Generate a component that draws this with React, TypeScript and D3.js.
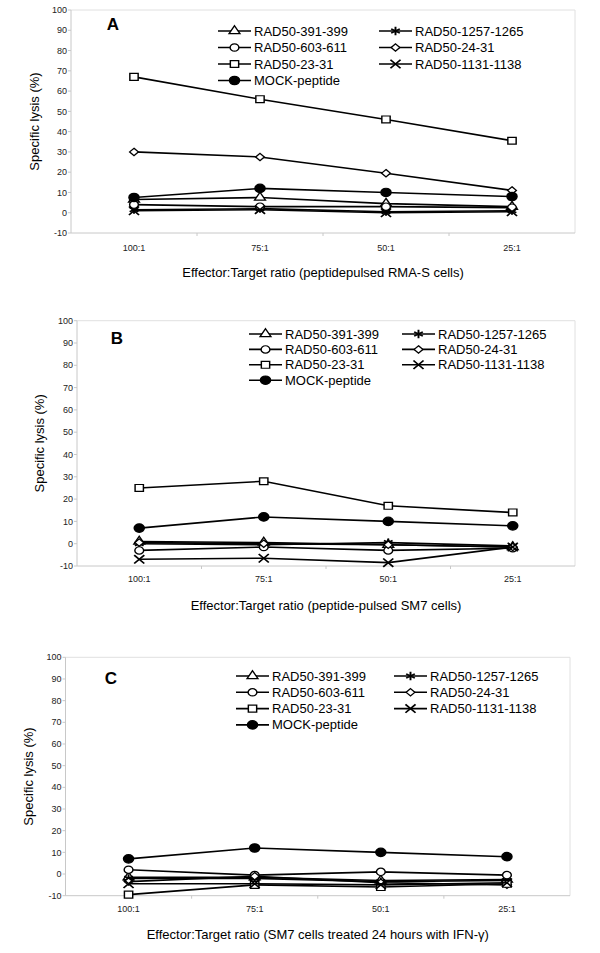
import * as d3 from 'd3';

// Effector:Target ratios on the x axis
const categories = ['100:1', '75:1', '50:1', '25:1'];
const yTicks = [-10, 0, 10, 20, 30, 40, 50, 60, 70, 80, 90, 100];

const seriesNames = [
    'RAD50-391-399',
    'RAD50-1257-1265',
    'RAD50-603-611',
    'RAD50-24-31',
    'RAD50-23-31',
    'RAD50-1131-1138',
    'MOCK-peptide',
];

// specific lysis (%), one row per series (same order as seriesNames)
const lysisRmaS = [
    [6.5, 7.5, 4.5, 3],
    [1.5, 2, 0.5, 1],
    [4, 3, 3, 2.5],
    [30, 27.5, 19.5, 11],
    [67, 56, 46, 35.5],
    [1, 1.5, 0, 0.5],
    [7.5, 12, 10, 8],
];

const lysisSm7 = [
    [1, 0.5, -0.5, -1.5],
    [0, -0.5, 0.5, -1],
    [-3, -1.5, -3, -2],
    [0.5, 0, -0.5, -1.5],
    [25, 28, 17, 14],
    [-7, -6.5, -8.5, -1.5],
    [7, 12, 10, 8],
];

const lysisSm7Ifn = [
    [-1.5, -1.5, -3, -2.5],
    [-2, -2, -3.5, -3],
    [2, -0.5, 1, -0.5],
    [-3.5, -1, -4, -5],
    [-9.5, -5, -6, -4.5],
    [-4.5, -4.5, -5, -4],
    [7, 12, 10, 8],
];

const markers = [
    { type: d3.symbolTriangle, size: 36, fill: '#fff', sw: 1.2 },
    { type: d3.symbolAsterisk, size: 48, fill: 'none', sw: 1.6 },
    { type: d3.symbolCircle, size: 42, fill: '#fff', sw: 1.2 },
    { type: d3.symbolDiamond2, size: 34, fill: '#fff', sw: 1.2 },
    { type: d3.symbolSquare, size: 48, fill: '#fff', sw: 1.2 },
    { type: d3.symbolTimes, size: 48, fill: 'none', sw: 1.5 },
    { type: d3.symbolCircle, size: 56, fill: '#000', sw: 1.2 },
];

const panels = [
    {
        letter: 'A', title: 'Effector:Target ratio (peptidepulsed RMA-S cells)', data: lysisRmaS,
        left: 71, right: 575, top: 10, bottom: 233, letterX: 113, letterY: 30,
        legendX: [218, 379], legendY: 31, legendStep: 16.5, tickY: 248, titleY: 272, yTitleX: 34,
    },
    {
        letter: 'B', title: 'Effector:Target ratio (peptide-pulsed SM7 cells)', data: lysisSm7,
        left: 77, right: 575, top: 320.7, bottom: 566, letterX: 117, letterY: 344,
        legendX: [249, 402], legendY: 334, legendStep: 15.4, tickY: 579, titleY: 605, yTitleX: 39.5,
    },
    {
        letter: 'C', title: 'Effector:Target ratio (SM7 cells treated 24 hours with IFN-\u03b3)', data: lysisSm7Ifn,
        left: 65.5, right: 570, top: 657.3, bottom: 895.7, letterX: 111, letterY: 684,
        legendX: [236, 394], legendY: 676, legendStep: 16.3, tickY: 909, titleY: 934, yTitleX: 28,
    },
];

const font = 'Liberation Sans, Arial, sans-serif';
const axisGray = '#c8c8c8';

function Marker({ i, x, y }: { i: number; x: number; y: number }) {
    const m = markers[i];
    const path = d3.symbol(m.type, m.size)()!;
    return (
        <path
            d={path}
            transform={`translate(${x},${y}) scale(1.2,1)`}
            fill={m.fill}
            stroke="#000"
            strokeWidth={m.sw}
        />
    );
}

function Panel({ p }: { p: typeof panels[number] }) {
    const x = d3.scaleBand().domain(categories).range([p.left, p.right]);
    const y = d3.scaleLinear().domain([-10, 100]).range([p.bottom, p.top]);
    const cx = (c: string) => x(c)! + x.bandwidth() / 2;
    const line = d3.line<number>()
        .x((_, j) => cx(categories[j]))
        .y(d => y(d));

    return (
        <g fontFamily={font}>
            {/* plot frame */}
            <line x1={p.left} x2={p.right} y1={p.top} y2={p.top} stroke="#e0e0e0" />
            <line x1={p.right} x2={p.right} y1={p.top} y2={p.bottom} stroke="#e0e0e0" />
            <line x1={p.left} x2={p.left} y1={p.top} y2={p.bottom} stroke={axisGray} />
            <line x1={p.left} x2={p.right} y1={p.bottom} y2={p.bottom} stroke={axisGray} />

            {yTicks.map(t => (
                <g key={t}>
                    <line x1={p.left - 3} x2={p.left} y1={y(t)} y2={y(t)} stroke={axisGray} />
                    <text x={p.left - 4} y={y(t)} dy="0.35em" textAnchor="end" fontSize={9} fill="#222">{t}</text>
                </g>
            ))}
            {categories.map((c, j) => (
                <g key={c}>
                    {j > 0 && <line x1={x(c)} x2={x(c)} y1={p.bottom} y2={p.bottom + 3} stroke={axisGray} />}
                    <text x={cx(c)} y={p.tickY} dy="0.35em" textAnchor="middle" fontSize={9} fill="#222">{c}</text>
                </g>
            ))}

            <text x={(p.left + p.right) / 2} y={p.titleY} dy="0.35em" textAnchor="middle" fontSize={13}>{p.title}</text>
            <text
                transform={`translate(${p.yTitleX},${(p.top + p.bottom) / 2}) rotate(-90)`}
                dy="0.35em" textAnchor="middle" fontSize={13}
            >Specific lysis (%)</text>
            <text x={p.letterX} y={p.letterY} textAnchor="middle" fontSize={17} fontWeight="bold">{p.letter}</text>

            {/* series */}
            {p.data.map((vals, i) => (
                <g key={seriesNames[i]}>
                    <path d={line(vals)!} fill="none" stroke="#000" strokeWidth={1.6} />
                    {vals.map((v, j) => <Marker key={j} i={i} x={cx(categories[j])} y={y(v)} />)}
                </g>
            ))}

            {/* legend */}
            {seriesNames.map((name, i) => {
                const lx = p.legendX[i % 2];
                const ly = p.legendY + Math.floor(i / 2) * p.legendStep;
                return (
                    <g key={name}>
                        <line x1={lx} x2={lx + 33} y1={ly} y2={ly} stroke="#000" strokeWidth={1.6} />
                        <Marker i={i} x={lx + 16.5} y={ly} />
                        <text x={lx + 36} y={ly} dy="0.35em" fontSize={13}>{name}</text>
                    </g>
                );
            })}
        </g>
    );
}

export default function App() {
    return (
        <div style={{ position: 'absolute', left: 0, top: 0 }}>
            <svg width={600} height={953} style={{ display: 'block', background: '#fff' }}>
                {panels.map(p => <Panel key={p.letter} p={p} />)}
            </svg>
        </div>
    );
}
